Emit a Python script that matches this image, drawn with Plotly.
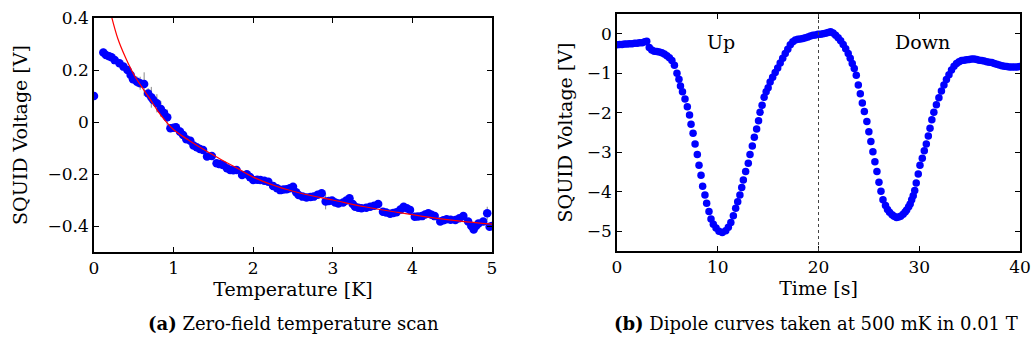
import plotly.graph_objects as go

# ---------------- (a) Zero-field temperature scan ----------------
temp_K = [0.0, 0.117, 0.15, 0.19, 0.22, 0.26, 0.32, 0.37, 0.42, 0.46, 0.49, 0.54, 0.58, 0.63,
          0.68, 0.72, 0.745, 0.79, 0.84, 0.88, 0.92, 0.96, 1.0, 1.03, 1.08, 1.12, 1.16, 1.21,
          1.25, 1.29, 1.33, 1.37, 1.42, 1.48, 1.54, 1.58, 1.62, 1.67, 1.71, 1.75, 1.79, 1.86,
          1.92, 1.96, 2.0, 2.05, 2.09, 2.14, 2.19, 2.25, 2.3, 2.34, 2.38, 2.42, 2.46, 2.5,
          2.54, 2.57, 2.62, 2.67, 2.72, 2.76, 2.81, 2.86, 2.91, 2.95, 2.99, 3.03, 3.07, 3.13,
          3.17, 3.21, 3.25, 3.28, 3.32, 3.36, 3.42, 3.47, 3.52, 3.57, 3.63, 3.67, 3.72, 3.76,
          3.8, 3.85, 3.89, 3.93, 3.97, 4.03, 4.07, 4.12, 4.16, 4.2, 4.24, 4.28, 4.35, 4.39,
          4.43, 4.48, 4.54, 4.59, 4.64, 4.7, 4.74, 4.77, 4.8, 4.83, 4.89, 4.94, 4.97, 5.0]
squid_a = [0.10, 0.267, 0.258, 0.253, 0.249, 0.238, 0.226, 0.213, 0.2, 0.181, 0.164, 0.155, 0.149, 0.146,
           0.110, 0.095, 0.085, 0.072, 0.05, 0.035, 0.018, -0.024, -0.022, -0.02, -0.037, -0.05, -0.066, -0.072,
           -0.09, -0.097, -0.104, -0.108, -0.133, -0.131, -0.159, -0.162, -0.165, -0.178, -0.185, -0.186, -0.185, -0.204,
           -0.201, -0.212, -0.223, -0.222, -0.223, -0.226, -0.23, -0.246, -0.255, -0.262, -0.26, -0.259, -0.255, -0.249,
           -0.27, -0.281, -0.287, -0.29, -0.288, -0.287, -0.28, -0.274, -0.306, -0.304, -0.302, -0.31, -0.313, -0.31,
           -0.302, -0.293, -0.315, -0.326, -0.33, -0.332, -0.33, -0.326, -0.322, -0.315, -0.345, -0.348, -0.353, -0.35,
           -0.347, -0.337, -0.326, -0.332, -0.338, -0.364, -0.363, -0.362, -0.356, -0.351, -0.357, -0.362, -0.383, -0.378,
           -0.374, -0.376, -0.377, -0.37, -0.362, -0.383, -0.4, -0.413, -0.4, -0.39, -0.383, -0.351, -0.403, -0.40]
err_a = [0.01, 0.015, 0.01, 0.01, 0.01, 0.01, 0.01, 0.01, 0.01, 0.01, 0.015, 0.02, 0.025, 0.045,
         0.02, 0.04, 0.02, 0.035, 0.03, 0.02, 0.03, 0.015, 0.01, 0.01, 0.01, 0.01, 0.01, 0.01,
         0.01, 0.01, 0.01, 0.01, 0.01, 0.01, 0.01, 0.01, 0.01, 0.01, 0.01, 0.01, 0.01, 0.01,
         0.01, 0.01, 0.01, 0.01, 0.01, 0.01, 0.01, 0.01, 0.01, 0.01, 0.01, 0.01, 0.01, 0.01,
         0.01, 0.01, 0.01, 0.01, 0.01, 0.01, 0.01, 0.01, 0.03, 0.01, 0.01, 0.01, 0.01, 0.01,
         0.01, 0.01, 0.01, 0.01, 0.01, 0.01, 0.01, 0.01, 0.01, 0.01, 0.01, 0.01, 0.01, 0.01,
         0.01, 0.01, 0.01, 0.01, 0.01, 0.01, 0.01, 0.01, 0.01, 0.01, 0.01, 0.01, 0.01, 0.01,
         0.01, 0.01, 0.01, 0.01, 0.01, 0.01, 0.01, 0.01, 0.01, 0.01, 0.01, 0.025, 0.01, 0.01]

fit_T = [0.2, 0.3, 0.4, 0.5, 0.6, 0.7, 0.8, 0.9, 1.0, 1.2, 1.4, 1.6, 1.8, 2.0, 2.3, 2.6,
         3.0, 3.4, 3.8, 4.2, 4.6, 5.0]
fit_V = [0.43, 0.32, 0.245, 0.183, 0.135, 0.09, 0.043, 0.003, -0.03, -0.072, -0.11, -0.145,
         -0.178, -0.212, -0.248, -0.274, -0.3, -0.326, -0.347, -0.366, -0.381, -0.393]

# ---------------- (b) Dipole curves ----------------
time_s = [0.0, 0.25, 0.5, 0.75, 1.0, 1.25, 1.5, 1.75, 2.0, 2.25, 2.5, 2.75, 2.95, 3.2, 3.45,
          3.7, 3.95, 4.2, 4.45, 4.7, 4.95, 5.2, 5.45, 5.7, 5.95, 6.15, 6.3, 6.5, 6.75, 6.98,
          7.2, 7.35, 7.55, 7.75, 7.97, 8.14, 8.34, 8.5, 8.73, 8.9, 9.13, 9.33, 9.56, 9.83, 10.12,
          10.45, 10.79, 11.05, 11.3, 11.55, 11.78, 11.98, 12.2, 12.38, 12.54, 12.77, 13.03, 13.2,
          13.43, 13.63, 13.86, 14.05, 14.2, 14.4, 14.6, 14.8, 15.0, 15.2, 15.45, 15.7, 15.95,
          16.2, 16.45, 16.7, 16.95, 17.2, 17.45, 17.7, 17.95, 18.2, 18.45, 18.7, 18.95, 19.2,
          19.45, 19.7, 19.95, 20.2, 20.45, 20.7, 20.95, 21.2, 21.45, 21.7, 21.95, 22.2, 22.45,
          22.7, 22.95, 23.15, 23.35, 23.55, 23.75, 23.95, 24.15, 24.35, 24.55, 24.8, 25.0, 25.2,
          25.4, 25.6, 25.8, 26.0, 26.2, 26.4, 26.65, 26.85, 27.05, 27.3, 27.5, 27.74, 27.95,
          28.15, 28.4, 28.6, 28.75, 28.95, 29.1, 29.25, 29.4, 29.55, 29.7, 29.9, 30.07, 30.3,
          30.5, 30.7, 30.9, 31.07, 31.25, 31.45, 31.7, 31.95, 32.2, 32.45, 32.7, 32.95, 33.2,
          33.45, 33.7, 33.95, 34.2, 34.45, 34.7, 34.95, 35.2, 35.45, 35.7, 35.95, 36.2, 36.45,
          36.7, 36.95, 37.2, 37.45, 37.7, 37.95, 38.2, 38.45, 38.7, 38.95, 39.2, 39.45, 39.7, 39.95]
squid_b = [-0.28, -0.27, -0.27, -0.26, -0.26, -0.25, -0.25, -0.24, -0.24, -0.23, -0.23, -0.2, -0.19, -0.35, -0.41,
           -0.44, -0.45, -0.46, -0.48, -0.51, -0.56, -0.61, -0.68, -0.80, -1.0, -1.15, -1.32, -1.47, -1.65, -1.85,
           -2.06, -2.29, -2.52, -2.79, -3.06, -3.33, -3.58, -3.86, -4.08, -4.29, -4.5, -4.69, -4.82, -4.92, -5.0,
           -5.03, -4.99, -4.9, -4.78, -4.61, -4.42, -4.25, -4.08, -3.89, -3.7, -3.49, -3.28, -3.06,
           -2.84, -2.62, -2.41, -2.2, -1.99, -1.81, -1.61, -1.47, -1.37, -1.22, -1.1, -0.98, -0.87,
           -0.74, -0.62, -0.5, -0.39, -0.28, -0.2, -0.16, -0.14, -0.13, -0.12, -0.1, -0.08, -0.06,
           -0.04, -0.03, -0.01, -0.01, 0.0, 0.01, 0.03, 0.05, 0.02, -0.04, -0.1, -0.18, -0.27,
           -0.38, -0.5, -0.62, -0.75, -0.88, -1.05, -1.3, -1.52, -1.75, -1.97, -2.22, -2.48, -2.73,
           -2.99, -3.24, -3.49, -3.76, -3.99, -4.2, -4.35, -4.45, -4.52, -4.58, -4.62, -4.65, -4.64,
           -4.62, -4.57, -4.51, -4.46, -4.38, -4.31, -4.2, -4.1, -3.97, -3.78, -3.55, -3.33, -3.15,
           -2.96, -2.79, -2.59, -2.39, -2.18, -1.99, -1.8, -1.62, -1.45, -1.3, -1.16, -1.04, -0.92,
           -0.82, -0.75, -0.71, -0.68, -0.67, -0.66, -0.65, -0.64, -0.64, -0.65, -0.67, -0.68, -0.69,
           -0.71, -0.72, -0.73, -0.75, -0.77, -0.79, -0.81, -0.82, -0.83, -0.84, -0.84, -0.84, -0.84, -0.83]

FONT = "DejaVu Serif"
W, H = 1034, 347
fig = go.Figure()

fig.add_trace(go.Scatter(
    x=temp_K, y=squid_a, mode="markers",
    marker=dict(color="#0000FF", size=8.5),
    error_y=dict(type="data", array=err_a, color="#888888", thickness=1, width=0),
    xaxis="x", yaxis="y", showlegend=False))
fig.add_trace(go.Scatter(
    x=fit_T, y=fit_V, mode="lines", line=dict(color="#FF0000", width=1.2, shape="spline"),
    xaxis="x", yaxis="y", showlegend=False))

fig.add_trace(go.Scatter(
    x=time_s, y=squid_b, mode="markers",
    marker=dict(color="#0000FF", size=7.5),
    xaxis="x2", yaxis="y2", showlegend=False))

axis_common = dict(showline=True, linecolor="black", linewidth=1.5, mirror="ticks",
                   ticks="inside", ticklen=5, tickcolor="black", tickwidth=1,
                   showgrid=False, zeroline=False, automargin=False,
                   tickfont=dict(family=FONT, size=17, color="black"))
title_font = dict(family=FONT, size=19, color="black")

fig.update_layout(
    width=W, height=H,
    margin=dict(l=0, r=0, t=0, b=0, autoexpand=False),
    paper_bgcolor="white", plot_bgcolor="white",
    font=dict(family=FONT, color="black"),
    xaxis=dict(domain=[94/W, 492/W], range=[0, 5], tickvals=[0, 1, 2, 3, 4, 5],
               anchor="y",
               title=dict(text="Temperature [K]", font=title_font, standoff=4),
               **axis_common),
    yaxis=dict(domain=[1-252/H, 1-18/H], range=[-0.5, 0.4],
               tickvals=[-0.4, -0.2, 0, 0.2, 0.4], ticktext=["−0.4", "−0.2", "0", "0.2", "0.4"],
               anchor="x",
               title=dict(text="SQUID Voltage [V]", font=title_font, standoff=15),
               **axis_common),
    xaxis2=dict(domain=[617/W, 1020/W], range=[0, 40], tickvals=[0, 10, 20, 30, 40],
                anchor="y2",
                title=dict(text="Time [s]", font=title_font, standoff=4),
                **axis_common),
    yaxis2=dict(domain=[1-251/H, 1-14/H], range=[-5.5, 0.5],
                tickvals=[-5, -4, -3, -2, -1, 0], ticktext=["−5", "−4", "−3", "−2", "−1", "0"],
                anchor="x2",
                title=dict(text="SQUID Voltage [V]", font=title_font, standoff=9),
                **axis_common),
    shapes=[dict(type="line", xref="x2", yref="y2 domain", x0=20, x1=20, y0=0, y1=1,
                 line=dict(color="#444444", width=1, dash="dot"))],
    annotations=[
        dict(text="Up", x=10.3, y=-0.2, xref="x2", yref="y2", showarrow=False,
             font=title_font),
        dict(text="Down", x=30.3, y=-0.2, xref="x2", yref="y2", showarrow=False,
             font=title_font),
        dict(text="<b>(a)</b> Zero-field temperature scan", x=293/W, y=1-323/H,
             xref="paper", yref="paper", showarrow=False, xanchor="center", yanchor="middle",
             font=dict(family=FONT, size=18, color="black")),
        dict(text="<b>(b)</b> Dipole curves taken at 500 mK in 0.01 T", x=816/W, y=1-323/H,
             xref="paper", yref="paper", showarrow=False, xanchor="center", yanchor="middle",
             font=dict(family=FONT, size=18, color="black")),
    ],
)

fig.write_html("out.html", config={"displayModeBar": False},
               post_script="document.body.style.margin='0px';")
